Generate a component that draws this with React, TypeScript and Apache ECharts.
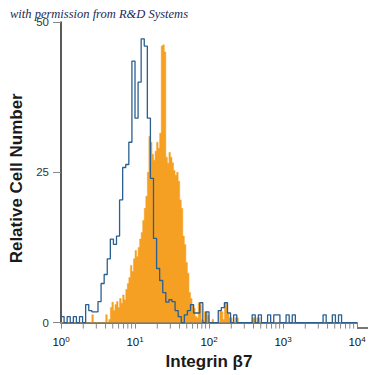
import React, { useEffect, useRef } from "react";
import * as echarts from "echarts";

// Histogram bins: blue = isotype control (1/24 decade bins), orange = Integrin β7 (1/48 decade bins)
const blueBinsPerDecade = 24;
const blueCounts = [
  1, 0, 1, 0, 1, 0, 1, 0,
  3, 2, 1.8, 1.8, 3.5, 6.5, 8, 10.6, 13.9, 13, 14.4, 20.4,
  25.8, 26.3, 30, 43.5, 34, 40, 47.2, 46, 34, 24,
  14, 9, 7, 5, 3.4, 3.8, 3.5, 2, 1, 0,
  1.3, 2, 3, 1.6, 1.6, 3.3, 0, 1.8, 0, 0,
  0, 2, 2.5, 3.3, 1.6, 0, 1.3, 0, 0, 0,
  0, 0, 1.3, 0, 1.3, 0, 0, 1.3, 0, 1.3,
  1.3, 0, 0, 1.3, 0, 1.3, 0, 0, 0, 0,
  0, 0, 0, 0, 0, 1.3, 0, 0, 1.3, 0,
  1.3, 0, 0, 0, 0, 0,
];

const orangeBinsPerDecade = 48;
const orangeCounts = [
  0, 0, 0, 0, 0, 0, 0, 0, 0, 0,
  0, 0, 0, 0, 0, 0, 0, 0, 0, 0,
  1.3, 0, 0, 0, 0, 0, 0, 0, 0, 1.3,
  0, 0.5, 2.5, 3.4, 2, 3, 3.5, 2.5, 4, 3.2,
  4.6, 3.8, 5.5, 6.5, 7.5, 9.5, 8.5, 10.6, 12, 11,
  12.5, 13.9, 15, 17, 19, 21, 25, 31, 30, 28,
  27, 28.5, 30, 29, 31.5, 46, 46.2, 45, 27.5, 26.5,
  28.3, 27.5, 26.6, 25.3, 24.5, 25, 23.5, 20.4, 19, 14.4,
  13, 10, 8.2, 5, 4, 3, 2.4, 1, 0.8, 3.3,
  3, 0.5, 0.3, 1.8, 1.8, 1.2, 0, 0, 0.5, 0,
  0, 0, 0, 2, 1.8, 0.5, 3.3, 3, 1.5, 0.8,
  0.8, 0, 0, 0.8, 0.8, 0, 0, 0, 0, 0,
  0, 0, 0, 0, 0.8, 0.8, 0, 0.8, 0.8, 0,
];

const yTicks = [0, 25, 50];
const minorTickValues = [
  2, 3, 4, 5, 6, 7, 8, 9,
  20, 30, 40, 50, 60, 70, 80, 90,
  200, 300, 400, 500, 600, 700, 800, 900,
  2000, 3000, 4000, 5000, 6000, 7000, 8000, 9000,
];

function stepData(counts: number[], perDecade: number) {
  const pts: [number, number][] = counts.map((c, i) => [Math.pow(10, i / perDecade), c]);
  pts.push([Math.pow(10, counts.length / perDecade), counts[counts.length - 1]]);
  return pts;
}

export default function App() {
  const ref = useRef<HTMLDivElement>(null);
  useEffect(() => {
    if (!ref.current) return;
    const chart = echarts.init(ref.current, undefined, { renderer: "svg" });
    const sans = "Liberation Sans";
    chart.setOption({
      animation: false,
      backgroundColor: "#fff",
      grid: { left: 56, right: 18, top: 22, bottom: 47 },
      xAxis: {
        type: "log",
        logBase: 10,
        min: 1,
        max: 10000,
        name: "Integrin β7",
        nameLocation: "middle",
        nameGap: 30,
        nameTextStyle: { fontFamily: sans, fontSize: 17, fontWeight: "bold", color: "#1a1a1a" },
        axisLine: { lineStyle: { color: "#777", width: 2 } },
        axisTick: { show: true, length: 6, lineStyle: { color: "#888" } },
        splitLine: { show: false },
        axisLabel: {
          margin: 13,
          color: "#111",
          fontFamily: sans,
          fontSize: 11.5,
          formatter: (v: number) => `10{sup|${Math.round(Math.log10(v))}}`,
          rich: { sup: { fontSize: 8, verticalAlign: "top", padding: [0, 0, 5, 0], fontFamily: sans, color: "#111" } },
        },
      },
      yAxis: {
        type: "value",
        min: yTicks[0],
        max: yTicks[yTicks.length - 1],
        interval: yTicks[1] - yTicks[0],
        name: "Relative Cell Number",
        nameLocation: "middle",
        nameGap: 36,
        nameTextStyle: {
          fontFamily: sans,
          fontSize: 17,
          fontWeight: "bold",
          color: "#1a1a1a",
          padding: [0, 12, 0, 0],
        },
        axisLine: { show: true, lineStyle: { color: "#222", width: 1.5 } },
        axisTick: { show: true, length: 8, lineStyle: { color: "#888" } },
        splitLine: { show: false },
        axisLabel: { margin: 12, color: "#333", fontFamily: sans, fontSize: 11.5 },
      },
      graphic: [
        {
          type: "line",
          shape: { x1: 357, y1: 328, x2: 368, y2: 328 },
          style: { stroke: "#777", lineWidth: 2 },
          z: 10,
        },
        {
          type: "text",
          left: 10,
          top: 7,
          style: {
            text: "with permission from R&D Systems",
            font: "italic 12.5px 'Liberation Serif'",
            fill: "#1c2a55",
          },
          z: 20,
        },
      ],
      series: [
        {
          type: "line",
          step: "end",
          data: stepData(orangeCounts, orangeBinsPerDecade),
          symbol: "none",
          lineStyle: { width: 0.5, color: "#F5A023" },
          areaStyle: { color: "#F5A023", opacity: 1 },
          z: 2,
        },
        {
          type: "line",
          step: "end",
          data: stepData(blueCounts, blueBinsPerDecade),
          symbol: "none",
          lineStyle: { width: 1.3, color: "#2a5f8f" },
          z: 3,
        },
        {
          type: "custom",
          clip: false,
          silent: true,
          data: minorTickValues.map((v) => [v, 0]),
          renderItem: (params: any, api: any) => {
            const p = api.coord([api.value(0), 0]);
            return {
              type: "line",
              shape: { x1: p[0], y1: p[1] + 1, x2: p[0], y2: p[1] + 6 },
              style: { stroke: "#888", lineWidth: 1 },
            };
          },
          z: 4,
        },
      ],
    });
    return () => chart.dispose();
  }, []);
  return <div ref={ref} style={{ position: "fixed", left: 0, top: 0, width: 375, height: 375 }} />;
}
